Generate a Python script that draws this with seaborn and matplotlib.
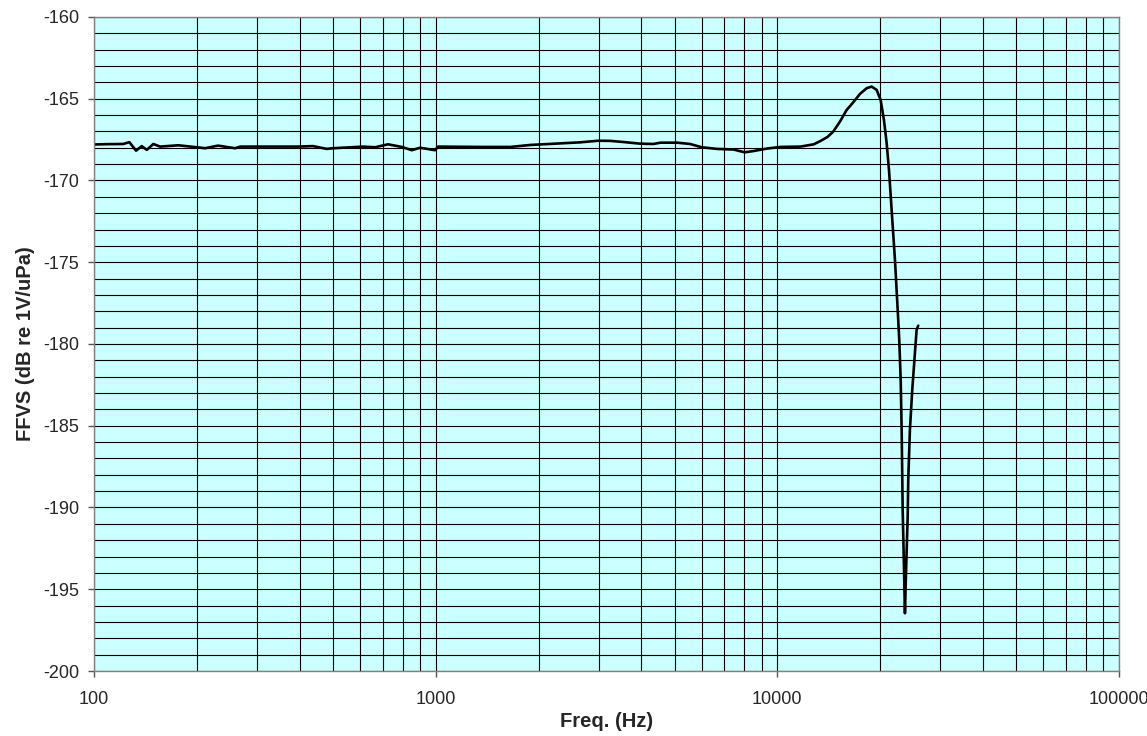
import numpy as np
import pandas as pd
import seaborn as sns
import matplotlib.pyplot as plt
from matplotlib.ticker import LogLocator, FixedLocator, FuncFormatter

sns.set_style("white")
plt.rcParams["font.family"] = ["Liberation Sans", "DejaVu Sans"]
plt.rcParams["axes.unicode_minus"] = False

# Free-field voltage sensitivity (path order, the tail turns back up)
freq_hz = [100, 110, 121.6, 126.9, 132.7, 137.9, 142.7, 149.1, 156.1, 176.5, 199.8,
           211.3, 230.7, 258.6, 268, 392.8, 437.5, 479.7, 500.6, 612.8, 664.4,
           725.2, 795.3, 850.9, 899.5, 995.4, 1016, 1348, 1655, 1890, 2645, 2994,
           3245, 3544, 3963, 4335, 4550, 5095, 5555, 6005, 6649, 7444, 8020, 8526,
           9330, 10210, 11680, 12780, 13330, 14000, 14580, 15250, 15950, 16680,
           17450, 18250, 18880, 19520, 20060, 20510, 20890, 21220, 21600, 22090,
           22500, 22740, 22960, 23110, 23270, 23470, 23630, 23750, 24070, 24160,
           24430, 24820, 25560, 25840]
ffvs_db = [-167.8, -167.78, -167.77, -167.66, -168.18, -167.9, -168.13, -167.77,
           -167.93, -167.85, -167.97, -168.03, -167.87, -168.03, -167.93, -167.93,
           -167.9, -168.07, -168.03, -167.93, -167.97, -167.79, -167.95, -168.15,
           -168.0, -168.15, -167.93, -167.95, -167.95, -167.83, -167.67, -167.57,
           -167.58, -167.65, -167.75, -167.77, -167.69, -167.69, -167.77, -167.97,
           -168.07, -168.11, -168.28, -168.2, -168.05, -167.95, -167.93, -167.79,
           -167.6, -167.35, -167.01, -166.4, -165.69, -165.22, -164.71, -164.36,
           -164.26, -164.46, -165.08, -166.3, -167.73, -169.36, -171.8, -174.86,
           -177.9, -179.76, -182.2, -185.26, -190.15, -193.6, -196.47, -194.6,
           -190.56, -188.3, -185.26, -182.81, -179.14, -178.88]

df = pd.DataFrame({"Freq": freq_hz, "FFVS": ffvs_db})

fig = plt.figure(figsize=(11.47, 7.36), dpi=100)
ax = fig.add_axes([0.082, 0.0883, 0.8936, 0.8887])
ax.set_facecolor("#CCFFFF")

sns.lineplot(data=df, x="Freq", y="FFVS", sort=False, estimator=None,
             color="black", linewidth=1.9, ax=ax)

ax.set_xscale("log")
ax.set_xlim(100, 100000)
ax.set_ylim(-200, -160)

ax.xaxis.set_major_locator(LogLocator(base=10))
ax.xaxis.set_minor_locator(LogLocator(base=10, subs=np.arange(2, 10)))
ax.xaxis.set_major_formatter(FuncFormatter(lambda v, p: f"{v:.0f}"))
ax.xaxis.set_minor_formatter(FuncFormatter(lambda v, p: ""))
ax.yaxis.set_major_locator(FixedLocator(np.arange(-200, -159, 5)))
ax.yaxis.set_minor_locator(FixedLocator(np.arange(-200, -159, 1)))

ax.grid(True, which="both", color="black", linewidth=0.8)
ax.set_axisbelow(True)

ax.tick_params(axis="both", which="major", direction="out", length=4.5,
               width=1, color="#555555", labelsize=13, bottom=True, left=True)
ax.tick_params(axis="both", which="minor", length=0)
ax.tick_params(axis="x", pad=10)
ax.tick_params(axis="y", pad=6)

for s in ax.spines.values():
    s.set_color("#808080")
    s.set_linewidth(1)

ax.set_xlabel("Freq. (Hz)", fontsize=14.5, fontweight="bold", labelpad=3)
ax.set_ylabel("FFVS (dB re 1V/uPa)", fontsize=14.5, fontweight="bold", labelpad=6)

fig.savefig("out.png", dpi=100)
